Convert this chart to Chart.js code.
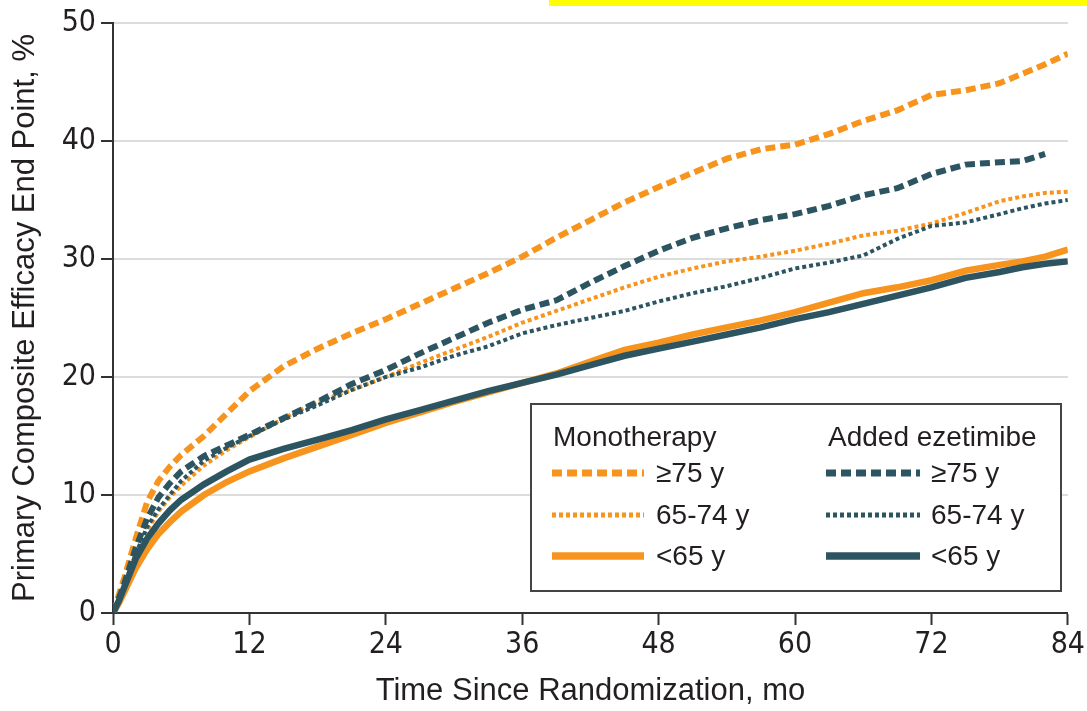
<!DOCTYPE html>
<html>
<head>
<meta charset="utf-8">
<script src="https://cdn.jsdelivr.net/npm/chart.js@4/dist/chart.umd.min.js"></script>
<style>
  html, body { margin: 0; padding: 0; background: #fff; }
  #wrap { position: relative; width: 1087px; height: 711px; }
</style>
</head>
<body>
<div id="wrap"><canvas id="km" width="1087" height="711"></canvas></div>
<script>
// --- data (cumulative incidence, %) ---
const months = [0, 0.5, 1, 2, 3, 4, 5, 6, 8, 10, 12, 15, 18, 21, 24, 27, 30, 33, 36, 39, 42, 45, 48, 51, 54, 57, 60, 63, 66, 69, 72, 75, 78, 80, 82, 84];

const monoOld = [0, 1.5, 3, 6.3, 9.4, 11.2, 12.4, 13.4, 15, 16.9, 18.8, 20.9, 22.4, 23.7, 24.9, 26.2, 27.5, 28.8, 30.2, 31.8, 33.3, 34.8, 36.1, 37.3, 38.5, 39.3, 39.7, 40.6, 41.7, 42.6, 43.9, 44.3, 44.9, 45.7, 46.5, 47.4];
const monoMid = [0, 1, 2.2, 4.8, 7, 8.6, 9.8, 10.8, 12.5, 13.8, 14.9, 16.5, 17.9, 18.9, 20, 21.2, 22.3, 23.4, 24.6, 25.6, 26.6, 27.6, 28.5, 29.2, 29.8, 30.2, 30.7, 31.3, 32, 32.4, 33, 33.9, 34.9, 35.3, 35.6, 35.7];
const monoYoung = [0, 0.8, 1.8, 3.8, 5.4, 6.7, 7.7, 8.6, 10, 11.1, 12, 13.1, 14.1, 15.1, 16.1, 17, 17.9, 18.7, 19.5, 20.3, 21.3, 22.3, 22.9, 23.6, 24.2, 24.8, 25.5, 26.3, 27.1, 27.6, 28.2, 29, 29.5, 29.8, 30.2, 30.8];

const ezeOld = [0, 1.2, 2.5, 5.5, 8, 9.8, 11, 12, 13.3, 14.2, 15.1, 16.5, 17.9, 19.4, 20.6, 22, 23.3, 24.6, 25.7, 26.5, 28, 29.4, 30.7, 31.8, 32.6, 33.3, 33.8, 34.5, 35.4, 36, 37.2, 38, 38.2, 38.3, 38.9, null];
const ezeMid = [0, 1.2, 2.4, 5, 7.3, 8.8, 10, 11.2, 12.9, 14, 15, 16.4, 17.6, 18.9, 20, 20.8, 21.8, 22.6, 23.7, 24.4, 25, 25.6, 26.4, 27.1, 27.7, 28.4, 29.2, 29.7, 30.3, 31.7, 32.8, 33.1, 33.8, 34.3, 34.7, 35];
const ezeYoung = [0, 1, 2.2, 4.6, 6.3, 7.6, 8.7, 9.6, 10.9, 12, 13, 13.9, 14.7, 15.5, 16.4, 17.2, 18, 18.8, 19.5, 20.2, 21, 21.8, 22.4, 23, 23.6, 24.2, 24.9, 25.5, 26.2, 26.9, 27.6, 28.4, 28.9, 29.3, 29.6, 29.8];

const xTicks = [0, 12, 24, 36, 48, 60, 72, 84];
const yTicks = [0, 10, 20, 30, 40, 50];
const ageLabels = ['\u226575 y', '65-74 y', '<65 y'];

const ORANGE = '#F7941D';
const TEAL = '#2C5561';
const INK = '#231F20';
const AXIS = '#333333';

const STYLES = {
  dashed: { borderWidth: 6, borderDash: [10, 5] },
  dotted: { borderWidth: 4, borderDash: [4, 3] },
  solid:  { borderWidth: 6.5, borderDash: [] }
};

function toPoints(arr) {
  return months.map((m, i) => ({ x: m, y: arr[i] }));
}

function makeSet(label, arr, color, style) {
  return Object.assign({
    label: label,
    data: toPoints(arr),
    borderColor: color,
    backgroundColor: color,
    pointRadius: 0,
    tension: 0,
    fill: false,
    spanGaps: false
  }, STYLES[style]);
}

// legend box + the yellow strip along the top
const legendBox = {
  id: 'legendBox',
  afterDraw(chart) {
    const c = chart.ctx;
    c.save();
    c.fillStyle = '#FFFF00';
    c.fillRect(549, 0, 538, 6);

    c.fillStyle = '#fff';
    c.fillRect(531, 404, 530, 187);
    c.strokeStyle = '#444';
    c.lineWidth = 2;
    c.strokeRect(531, 404, 530, 187);

    c.fillStyle = INK;
    c.font = '28px "Liberation Sans", Arial, sans-serif';
    c.textBaseline = 'middle';
    c.fillText('Monotherapy', 553, 438);
    c.fillText('Added ezetimibe', 828, 438);

    const rows = [473, 515, 556];
    const kinds = ['dashed', 'dotted', 'solid'];
    rows.forEach((y, i) => {
      const st = STYLES[kinds[i]];
      c.lineWidth = st.borderWidth + 1;
      c.setLineDash(st.borderDash);
      c.strokeStyle = ORANGE;
      c.beginPath(); c.moveTo(552, y); c.lineTo(644, y); c.stroke();
      c.strokeStyle = TEAL;
      c.beginPath(); c.moveTo(826, y); c.lineTo(920, y); c.stroke();
      c.setLineDash([]);
      c.fillStyle = INK;
      c.fillText(ageLabels[i], 656, y + 1);
      c.fillText(ageLabels[i], 931, y + 1);
    });
    c.restore();
  }
};

new Chart(document.getElementById('km'), {
  type: 'line',
  data: {
    datasets: [
      makeSet('Added ezetimibe <65 y', ezeYoung, TEAL, 'solid'),
      makeSet('Added ezetimibe 65-74 y', ezeMid, TEAL, 'dotted'),
      makeSet('Added ezetimibe \u226575 y', ezeOld, TEAL, 'dashed'),
      makeSet('Monotherapy <65 y', monoYoung, ORANGE, 'solid'),
      makeSet('Monotherapy 65-74 y', monoMid, ORANGE, 'dotted'),
      makeSet('Monotherapy \u226575 y', monoOld, ORANGE, 'dashed')
    ]
  },
  options: {
    responsive: false,
    animation: false,
    devicePixelRatio: 1,
    layout: { padding: { top: 22, right: 16, left: 0, bottom: 0 } },
    plugins: {
      legend: { display: false },
      tooltip: { enabled: false }
    },
    scales: {
      x: {
        type: 'linear',
        min: 0, max: 84,
        afterFit: (s) => { s.height = 98; },
        afterBuildTicks: (s) => { s.ticks = xTicks.map(v => ({ value: v })); },
        ticks: {
          color: INK,
          padding: 2,
          maxRotation: 0,
          font: { family: '"Liberation Sans Narrow", "DejaVu Sans Condensed", sans-serif', size: 30 }
        },
        grid: { drawOnChartArea: false, tickLength: 12, tickColor: AXIS, tickWidth: 2 },
        border: { color: AXIS, width: 2 },
        title: {
          display: true,
          text: 'Time Since Randomization, mo',
          color: INK,
          padding: { top: 0, bottom: 1 },
          font: { family: '"Liberation Sans", Arial, sans-serif', size: 31 }
        }
      },
      y: {
        min: 0, max: 50,
        afterFit: (s) => { s.width = 113; },
        afterBuildTicks: (s) => { s.ticks = yTicks.map(v => ({ value: v })); },
        ticks: {
          color: INK,
          padding: 5,
          font: { family: '"Liberation Sans Narrow", "DejaVu Sans Condensed", sans-serif', size: 30 }
        },
        grid: { color: '#DCDCDC', lineWidth: 2, tickLength: 12, tickColor: AXIS, tickWidth: 2 },
        border: { color: AXIS, width: 2 },
        title: {
          display: true,
          text: 'Primary Composite Efficacy End Point, %',
          color: INK,
          padding: { top: 7, bottom: 0 },
          font: { family: '"Liberation Sans", Arial, sans-serif', size: 31 }
        }
      }
    }
  },
  plugins: [legendBox]
});
</script>
</body>
</html>
